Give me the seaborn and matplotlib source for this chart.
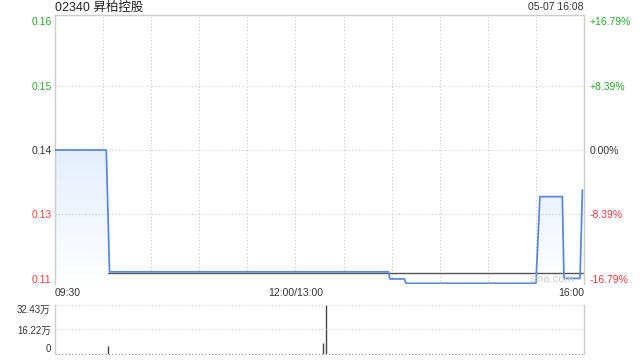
import numpy as np
import matplotlib
matplotlib.use("Agg")
import matplotlib.pyplot as plt
from matplotlib.patches import Polygon
from matplotlib.colors import LinearSegmentedColormap
import seaborn as sns

# ---------------- data ----------------
stock_title = "02340 昇柏控股"
timestamp = "05-07 16:08"
prev_close = 0.14

# minutes since 09:30 (trading minutes, lunch break removed)
price_minutes = [0, 32, 34, 208, 209, 218, 219, 300, 302.5, 316.5, 317.5, 327.5, 329]
price_values = [0.140, 0.140, 0.1178, 0.1178, 0.1165, 0.1165, 0.1157, 0.1157,
                0.1315, 0.1315, 0.1166, 0.1166, 0.1327]

avg_minutes = [33, 330]
avg_values = [0.1176, 0.1176]

vol_minutes = [33, 167, 169, 220]
vol_values = [5.3, 7.4, 32.43, 0.3]  # 万

pct_ticks = [16.79, 8.39, 0.00, -8.39, -16.79]
price_tick_labels = ["0.16", "0.15", "0.14", "0.13", "0.11"]
pct_tick_labels = ["+16.79%", "+8.39%", "0.00%", "-8.39%", "-16.79%"]

time_ticks = [0, 30, 60, 90, 120, 150, 180, 210, 240, 270, 300, 330]
time_tick_labels = ["09:30", "", "", "", "", "12:00/13:00", "", "", "", "", "", "16:00"]

vol_ticks = [0, 16.22, 32.43]
vol_tick_labels = ["0", "16.22万", "32.43万"]

# ---------------- style ----------------
sns.set_theme(style="white")
plt.rcParams["font.family"] = ["Liberation Sans", "Noto Sans CJK SC", "DejaVu Sans"]

GREEN = "#2aa52a"
RED = "#f03c3c"
DARK = "#333333"
GRID = "#c8c8c8"
BORDER = "#cccccc"
LINE = "#5b8ad8"
DOT = (0, (1, 2))

tick_colors = [GREEN, GREEN, DARK, RED, RED]
tick_prices = [prev_close * (1 + p / 100) for p in pct_ticks]

fig = plt.figure(figsize=(6.4, 3.6), dpi=100)
W, H = 640, 360

def box(x0, y0, x1, y1):
    return [x0 / W, 1 - y1 / H, (x1 - x0) / W, (y1 - y0) / H]

ax = fig.add_axes(box(55, 14.5, 584, 284))
ylo, yhi = 0.11558, 0.16469
xlo, xhi = 0, 330

# gradient fill under price line
cmap = LinearSegmentedColormap.from_list("fillgrad", ["#ffffff", "#c8dbf7"])
grad = np.linspace(1, 0, 256).reshape(-1, 1)
im = ax.imshow(grad, extent=[xlo, xhi, ylo, yhi], aspect="auto", cmap=cmap,
               vmin=0, vmax=1, origin="upper", zorder=1)
verts = [(price_minutes[0], ylo)] + list(zip(price_minutes, price_values)) + [(price_minutes[-1], ylo)]
poly = Polygon(verts, closed=True, transform=ax.transData, facecolor="none", edgecolor="none")
ax.add_patch(poly)
im.set_clip_path(poly)

# gridlines
for p in tick_prices[1:4]:
    ax.axhline(p, color=GRID, ls=DOT, lw=0.8, zorder=1.5)
ax.set_xticks(time_ticks)
ax.set_xticklabels(time_tick_labels)
ax.grid(axis="x", color=GRID, linestyle=DOT, lw=0.8)
ax.grid(axis="y", visible=False)

sns.lineplot(x=avg_minutes, y=avg_values, ax=ax, color="#555555", lw=1.0, zorder=2)
sns.lineplot(x=price_minutes, y=price_values, ax=ax, color=LINE, lw=1.3, zorder=3)

ax.set_xlim(xlo, xhi)
ax.set_ylim(ylo, yhi)
ax.set_xlabel("")
ax.set_ylabel("")

for side in ["left", "right", "top"]:
    ax.spines[side].set_color(BORDER)
    ax.spines[side].set_linewidth(1.0)
ax.spines["bottom"].set_visible(False)

ax.set_yticks(tick_prices)
ax.set_yticklabels(price_tick_labels)
ax.tick_params(axis="y", length=0, pad=2.5, labelsize=7.5)
for lab, c in zip(ax.get_yticklabels(), tick_colors):
    lab.set_color(c)
ax.tick_params(axis="x", length=0, pad=3, labelsize=7.5, colors=DARK)
xl = ax.get_xticklabels()
xl[0].set_ha("left")
xl[-1].set_ha("right")

axr = ax.twinx()
axr.set_ylim(ylo, yhi)
axr.set_yticks(tick_prices)
axr.set_yticklabels(pct_tick_labels)
axr.tick_params(axis="y", length=0, pad=4, labelsize=7.5)
for lab, c in zip(axr.get_yticklabels(), tick_colors):
    lab.set_color(c)
for s in axr.spines.values():
    s.set_visible(False)
axr.grid(False)

ax.text(0.94, 0.02, "sina.com", transform=ax.transAxes, ha="center", va="center",
        fontsize=8, color="#cdcdcd", zorder=4)

# ---------------- volume ----------------
ax2 = fig.add_axes(box(55, 305, 584, 354))
ax2.vlines(vol_minutes, 0, vol_values, color="#444444", lw=1.0)
ax2.set_xlim(xlo, xhi)
ax2.set_ylim(0, vol_ticks[-1])
ax2.set_xticks([])
ax2.set_yticks(vol_ticks)
ax2.set_yticklabels(vol_tick_labels)
ax2.tick_params(axis="y", length=0, pad=3, labelsize=7, colors=DARK)
yl = ax2.get_yticklabels()
yl[0].set_va("bottom")
yl[-1].set_va("top")
ax2.grid(False)
ax2.axhline(vol_ticks[1], color=GRID, ls=DOT, lw=0.8)
ax2.axhline(vol_ticks[2], color=GRID, ls=DOT, lw=0.8, clip_on=False)
ax2.axhline(0, color="#888888", ls=DOT, lw=0.8, clip_on=False)
for side in ["top", "bottom"]:
    ax2.spines[side].set_visible(False)
for side in ["left", "right"]:
    ax2.spines[side].set_color(BORDER)
    ax2.spines[side].set_linewidth(1.0)

# ---------------- header ----------------
fig.text(55 / W, 1 - 8 / H, stock_title, ha="left", va="center", fontsize=9, color="#222222")
fig.text(584 / W, 1 - 7 / H, timestamp, ha="right", va="center", fontsize=7.5, color=DARK)

fig.savefig("out.png", dpi=100)
